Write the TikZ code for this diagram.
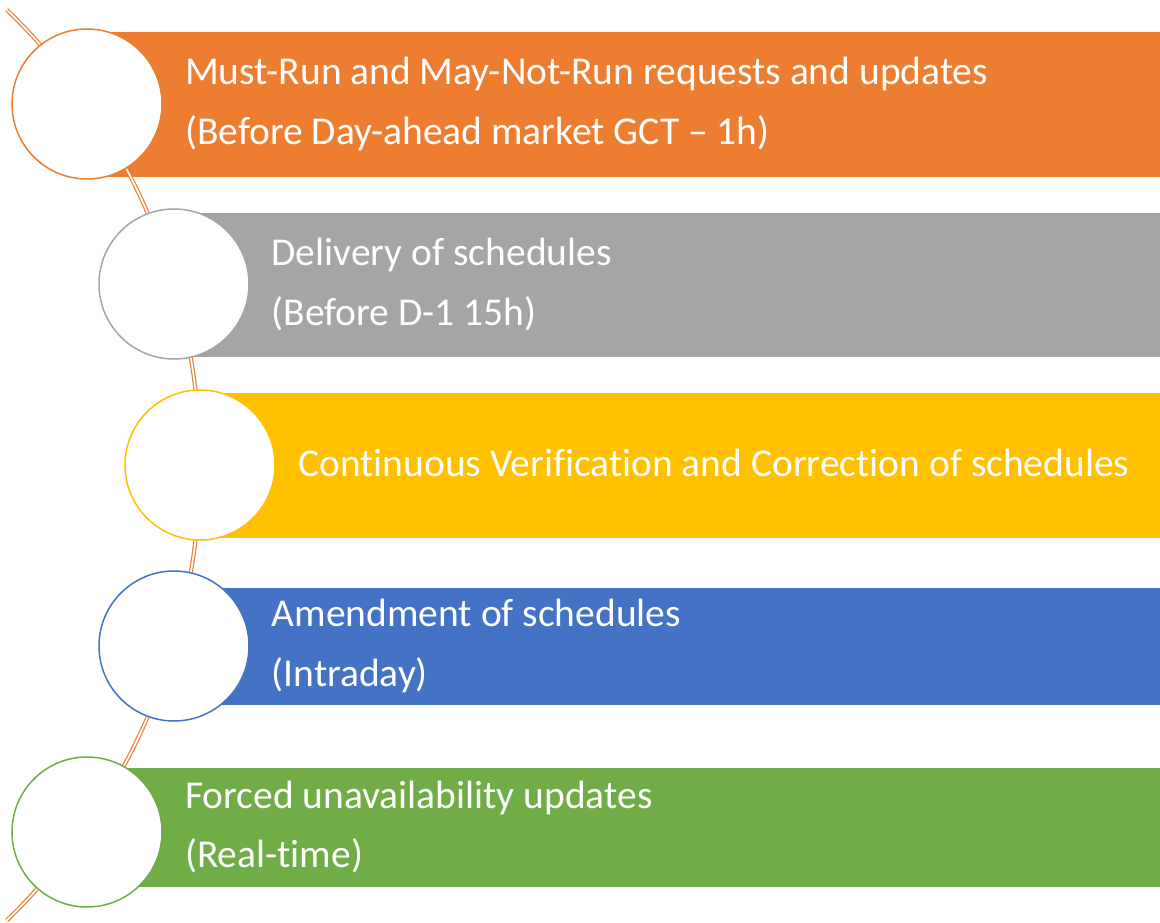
\documentclass[tikz,border=0pt]{standalone}
\usepackage{fontspec}
\setmainfont{Carlito}[Ligatures={NoCommon}]
\definecolor{cOrange}{HTML}{ED7D31}
\definecolor{cGray}{HTML}{A5A5A5}
\definecolor{cYellow}{HTML}{FFC000}
\definecolor{cBlue}{HTML}{4472C4}
\definecolor{cGreen}{HTML}{70AD47}
\begin{document}
\begin{tikzpicture}[x=1pt,y=1pt,
  bar/.style={rectangle, inner sep=0pt, draw=none, anchor=north west},
  stepcircle/.style={circle, fill=white, draw=#1, line width=1.5pt, minimum size=150pt, inner sep=0pt},
  spine/.style={draw=cOrange, line width=1.2pt, double=white, double distance=1.7pt},
  label/.style={anchor=base west, inner sep=0pt, text=white, font=\fontsize{39.5}{47}\selectfont}
]
\useasboundingbox (0,0) rectangle (1160,-923);
\begin{scope}
\clip (0,0) rectangle (1160,-923);

% coloured bars, one per stage
\node[bar, fill=cOrange, minimum width=1073pt, minimum height=145pt] (b1) at (87,-32) {};
\node[bar, fill=cGray,   minimum width=986pt,  minimum height=144pt] (b2) at (174,-213) {};
\node[bar, fill=cYellow, minimum width=960pt,  minimum height=145pt] (b3) at (200,-393) {};
\node[bar, fill=cBlue,   minimum width=986pt,  minimum height=117pt] (b4) at (174,-588) {};
\node[bar, fill=cGreen,  minimum width=1073pt, minimum height=119pt] (b5) at (87,-768) {};

% timeline spine: a wide arc through the stage markers
\coordinate (spinestart) at (6.7,-9.7);
\draw[spine] (spinestart) arc[start angle=46, end angle=-46, radius=633];

% stage markers
\node[stepcircle=cOrange] (c1) at (87,-104) {};
\node[stepcircle=cGray]   (c2) at (174,-284) {};
\node[stepcircle=cYellow] (c3) at (200,-465) {};
\node[stepcircle=cBlue]   (c4) at (174,-646) {};
\node[stepcircle=cGreen]  (c5) at (87,-832) {};
\end{scope}

% stage texts
\node[label] (t1a) at (185,-85)  {Must-Run and May-Not-Run requests and updates};
\node[label] (t1b) at (185,-144.3) {(Before Day-ahead market GCT -- 1h)};
\node[label] (t2a) at (271.5,-265) {Delivery of schedules};
\node[label] (t2b) at (271.5,-325) {(Before D-1 15h)};
\node[label] (t3)  at (298,-476.7) {Continuous Verification and Correction of schedules};
\node[label] (t4a) at (271.5,-626.7) {Amendment of schedules};
\node[label] (t4b) at (271.5,-686.7) {(Intraday)};
\node[label] (t5a) at (185,-808) {Forced unavailability updates};
\node[label] (t5b) at (185,-867) {(Real-time)};
\end{tikzpicture}
\end{document}
